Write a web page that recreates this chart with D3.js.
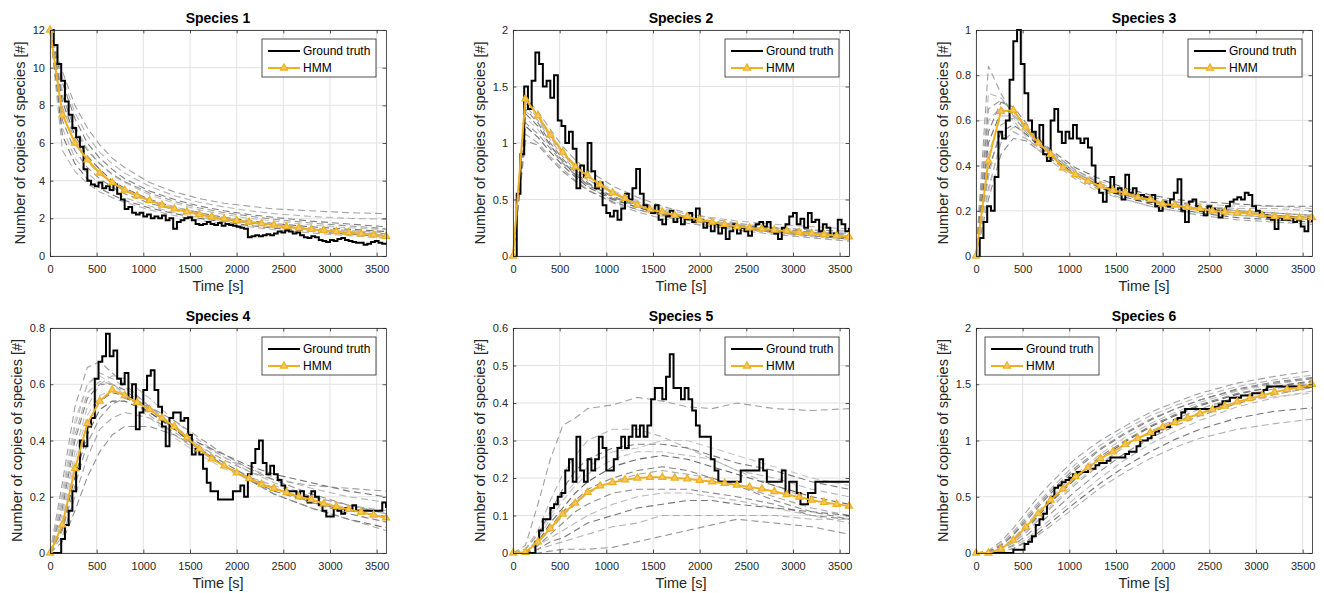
<!DOCTYPE html>
<html>
<head>
<meta charset="utf-8">
<script src="https://cdn.jsdelivr.net/npm/d3@7"></script>
<style>
body { margin: 0; background: #fff; }
svg { display: block; font-family: "Liberation Sans", Arial, Helvetica, sans-serif; }
</style>
</head>
<body>
<svg id="chart"></svg>
<script>
var width = 1324;
var height = 593;

// time grids [s]
var hmmTimes = [0,133,267,400,533,667,800,933,1067,1200,1333,1467,1600,1733,1867,2000,2133,2267,2400,2533,2667,2800,2933,3067,3200,3333,3467,3600];
var ensTimes = [0,133,267,400,533,667,800,1067,1333,1600,1867,2133,2400,2800,3200,3600];
var gtTimes = [0,40,80,120,160,200,240,280,320,360,400,440,480,520,560,600,640,680,720,760,800,840,880,920,960,1000,1040,1080,1120,1160,1200,1240,1280,1320,1360,1400,1440,1480,1520,1560,1600,1640,1680,1720,1760,1800,1840,1880,1920,1960,2000,2040,2080,2120,2160,2200,2240,2280,2320,2360,2400,2440,2480,2520,2560,2600,2640,2680,2720,2760,2800,2840,2880,2920,2960,3000,3040,3080,3120,3160,3200,3240,3280,3320,3360,3400,3440,3480,3520,3560,3600];

var titles = ["Species 1", "Species 2", "Species 3", "Species 4", "Species 5", "Species 6"];
var xTicks = [0,500,1000,1500,2000,2500,3000,3500];
var yMax = [12, 2, 1, 0.8, 0.6, 2];
var yTicks = [
  [0,2,4,6,8,10,12],
  [0,0.5,1,1.5,2],
  [0,0.2,0.4,0.6,0.8,1],
  [0,0.2,0.4,0.6,0.8],
  [0,0.1,0.2,0.3,0.4,0.5,0.6],
  [0,0.5,1,1.5,2]
];

// ground truth (step)
var truth1 = [12,11.2,10.2,9.3,8.2,7.5,6.8,6.3,5.8,4.6,4.0,3.8,3.7,3.9,3.6,3.7,3.5,3.8,3.3,3.0,2.5,2.6,2.3,2.2,2.3,2.1,2.2,2.0,2.1,2.0,2.15,1.9,2.0,1.45,1.8,1.9,2.0,2.05,1.9,1.7,1.65,1.7,1.8,1.7,1.65,1.75,1.6,1.7,1.65,1.6,1.55,1.5,1.45,1.0,1.05,1.1,1.05,1.1,1.15,1.1,1.2,1.3,1.25,1.35,1.3,1.2,1.25,1.1,1.0,0.95,1.05,1.0,0.85,0.8,0.75,0.85,0.8,0.9,0.95,0.85,0.8,0.75,0.7,0.7,0.6,0.65,0.75,0.8,0.7,0.65,0.7];
var truth2 = [0,0.55,0.9,1.5,1.3,1.55,1.8,1.7,1.5,1.55,1.4,1.6,1.2,1.15,1.0,1.1,0.95,0.6,0.8,0.7,1.0,0.75,0.6,0.65,0.45,0.38,0.35,0.4,0.32,0.42,0.55,0.5,0.6,0.77,0.55,0.45,0.4,0.38,0.45,0.32,0.28,0.35,0.4,0.3,0.35,0.28,0.33,0.38,0.3,0.42,0.32,0.25,0.3,0.22,0.28,0.2,0.25,0.15,0.22,0.28,0.2,0.25,0.22,0.18,0.25,0.28,0.3,0.26,0.3,0.22,0.2,0.15,0.25,0.28,0.35,0.38,0.28,0.33,0.25,0.38,0.3,0.32,0.22,0.28,0.25,0.18,0.2,0.32,0.28,0.22,0.25];
var truth3 = [0,0.08,0.15,0.22,0.2,0.35,0.55,0.52,0.6,0.78,0.95,1.0,0.85,0.72,0.6,0.55,0.5,0.58,0.45,0.42,0.6,0.65,0.55,0.5,0.55,0.52,0.58,0.52,0.5,0.52,0.48,0.4,0.32,0.28,0.24,0.3,0.35,0.28,0.3,0.25,0.36,0.28,0.3,0.25,0.27,0.26,0.24,0.27,0.22,0.2,0.24,0.22,0.25,0.28,0.34,0.2,0.15,0.24,0.25,0.22,0.2,0.18,0.22,0.21,0.2,0.17,0.2,0.22,0.24,0.25,0.26,0.25,0.28,0.27,0.22,0.2,0.19,0.18,0.17,0.16,0.12,0.17,0.16,0.16,0.17,0.15,0.16,0.13,0.11,0.17,0.15];
var truth4 = [0,0,0,0.05,0.1,0.15,0.22,0.3,0.4,0.38,0.45,0.48,0.62,0.68,0.7,0.78,0.7,0.72,0.62,0.6,0.64,0.55,0.6,0.44,0.5,0.58,0.63,0.65,0.58,0.52,0.45,0.38,0.48,0.5,0.5,0.47,0.48,0.42,0.35,0.37,0.35,0.3,0.25,0.22,0.22,0.19,0.19,0.19,0.19,0.22,0.22,0.24,0.2,0.28,0.32,0.37,0.4,0.32,0.28,0.31,0.28,0.26,0.24,0.21,0.22,0.22,0.2,0.22,0.2,0.18,0.22,0.2,0.17,0.15,0.13,0.13,0.16,0.15,0.14,0.16,0.15,0.17,0.15,0.15,0.15,0.15,0.15,0.15,0.15,0.18,0.16];
var truth5 = [0,0,0,0,0,0,0.03,0.06,0.09,0.09,0.12,0.13,0.15,0.16,0.22,0.25,0.19,0.31,0.22,0.19,0.25,0.22,0.25,0.31,0.28,0.22,0.22,0.25,0.28,0.31,0.28,0.31,0.34,0.31,0.34,0.31,0.34,0.41,0.44,0.44,0.41,0.47,0.53,0.44,0.44,0.41,0.44,0.41,0.38,0.34,0.31,0.31,0.31,0.25,0.22,0.19,0.19,0.19,0.19,0.19,0.19,0.22,0.22,0.22,0.22,0.22,0.25,0.22,0.19,0.19,0.19,0.19,0.22,0.16,0.19,0.19,0.16,0.13,0.13,0.16,0.16,0.19,0.19,0.19,0.19,0.19,0.19,0.19,0.19,0.19,0.19];
var truth6 = [0,0,0,0,0,0,0,0,0,0,0.03,0.03,0.03,0.08,0.1,0.15,0.25,0.3,0.35,0.45,0.5,0.58,0.6,0.63,0.65,0.67,0.7,0.72,0.72,0.72,0.75,0.75,0.78,0.8,0.8,0.82,0.85,0.85,0.85,0.85,0.88,0.9,0.9,0.95,1.0,1.0,1.02,1.05,1.08,1.1,1.12,1.12,1.15,1.18,1.2,1.25,1.28,1.28,1.28,1.28,1.28,1.28,1.28,1.28,1.3,1.32,1.35,1.35,1.38,1.38,1.38,1.4,1.4,1.4,1.42,1.42,1.42,1.45,1.48,1.48,1.48,1.48,1.48,1.48,1.48,1.48,1.48,1.48,1.48,1.48,1.48];

// HMM estimate
var hmm1 = [12,7.5,6.0,5.1,4.4,3.9,3.5,3.2,2.95,2.7,2.5,2.35,2.2,2.08,1.97,1.88,1.8,1.72,1.64,1.56,1.49,1.42,1.36,1.3,1.24,1.18,1.12,1.05];
var hmm2 = [0,1.39,1.24,1.07,0.92,0.79,0.71,0.63,0.56,0.51,0.45,0.41,0.39,0.36,0.35,0.32,0.30,0.28,0.26,0.25,0.24,0.23,0.22,0.21,0.20,0.19,0.18,0.17];
var hmm3 = [0,0.42,0.64,0.645,0.57,0.50,0.45,0.39,0.36,0.33,0.31,0.29,0.28,0.26,0.25,0.23,0.225,0.215,0.21,0.2,0.195,0.19,0.19,0.18,0.175,0.172,0.17,0.17];
var hmm4 = [0,0.10,0.30,0.46,0.54,0.58,0.56,0.535,0.51,0.48,0.45,0.41,0.37,0.335,0.31,0.285,0.265,0.245,0.23,0.215,0.2,0.19,0.175,0.165,0.155,0.145,0.135,0.125];
var hmm5 = [0,0.002,0.03,0.065,0.104,0.133,0.162,0.179,0.188,0.195,0.2,0.202,0.202,0.2,0.198,0.194,0.19,0.186,0.181,0.176,0.171,0.164,0.156,0.149,0.141,0.135,0.13,0.125];
var hmm6 = [0,0,0.035,0.115,0.23,0.35,0.47,0.57,0.68,0.76,0.84,0.9,0.965,1.02,1.07,1.12,1.16,1.2,1.24,1.275,1.305,1.343,1.373,1.4,1.43,1.453,1.47,1.5];

// ensemble runs (dashed)
var ens1 = [
  [12,9.8,8.0,6.8,5.9,5.2,4.7,3.9,3.4,3.05,2.8,2.65,2.5,2.4,2.3,2.25],
  [12,9.5,7.6,6.4,5.5,4.9,4.4,3.7,3.2,2.85,2.6,2.4,2.25,2.1,2.0,1.95],
  [12,9.2,7.3,6.0,5.2,4.6,4.1,3.45,3.0,2.65,2.4,2.2,2.05,1.85,1.7,1.55],
  [12,8.8,6.9,5.7,4.9,4.3,3.9,3.25,2.8,2.45,2.2,2.0,1.85,1.65,1.5,1.4],
  [12,8.2,6.4,5.3,4.6,4.0,3.6,3.0,2.6,2.3,2.05,1.88,1.72,1.55,1.42,1.3],
  [12,7.9,6.2,5.1,4.4,3.85,3.45,2.9,2.5,2.2,1.98,1.8,1.66,1.48,1.35,1.25],
  [12,7.2,5.6,4.7,4.1,3.65,3.3,2.8,2.45,2.15,1.92,1.75,1.6,1.42,1.28,1.18],
  [12,6.8,5.2,4.4,3.85,3.45,3.1,2.65,2.3,2.05,1.85,1.68,1.54,1.38,1.25,1.12],
  [12,6.4,4.9,4.1,3.6,3.25,2.95,2.55,2.25,2.0,1.8,1.62,1.48,1.3,1.15,1.05],
  [12,5.6,4.5,3.85,3.4,3.1,2.85,2.45,2.15,1.9,1.7,1.55,1.4,1.22,1.08,0.95],
  [12,8.5,6.7,5.6,4.9,4.35,3.95,3.35,2.9,2.55,2.3,2.12,1.95,1.75,1.6,1.45],
  [12,7.6,6.0,5.0,4.35,3.9,3.55,3.0,2.6,2.3,2.05,1.85,1.7,1.5,1.35,1.22]
];
var ens2 = [
  [0,1.40,1.28,1.12,0.97,0.85,0.76,0.62,0.52,0.44,0.38,0.33,0.29,0.25,0.22,0.2],
  [0,1.35,1.22,1.05,0.90,0.78,0.68,0.55,0.46,0.39,0.34,0.30,0.27,0.23,0.2,0.18],
  [0,1.30,1.18,1.0,0.86,0.74,0.65,0.52,0.44,0.38,0.33,0.29,0.26,0.22,0.19,0.16],
  [0,1.22,1.12,0.97,0.83,0.71,0.62,0.49,0.41,0.35,0.30,0.27,0.24,0.2,0.17,0.14],
  [0,1.15,1.05,0.92,0.80,0.70,0.61,0.50,0.43,0.37,0.33,0.30,0.27,0.24,0.21,0.19],
  [0,1.08,1.0,0.88,0.77,0.67,0.59,0.47,0.39,0.33,0.29,0.26,0.23,0.19,0.16,0.13],
  [0,1.02,0.98,0.86,0.75,0.66,0.58,0.48,0.41,0.36,0.32,0.29,0.27,0.25,0.23,0.22],
  [0,1.38,1.25,1.08,0.93,0.80,0.70,0.57,0.48,0.42,0.37,0.34,0.31,0.28,0.26,0.24],
  [0,1.26,1.15,0.98,0.84,0.72,0.63,0.51,0.43,0.37,0.32,0.28,0.25,0.21,0.18,0.15],
  [0,1.33,1.2,1.03,0.88,0.76,0.67,0.56,0.47,0.40,0.35,0.31,0.28,0.24,0.21,0.19],
  [0,1.18,1.08,0.95,0.82,0.72,0.64,0.53,0.45,0.38,0.33,0.29,0.25,0.21,0.18,0.16],
  [0,1.28,1.2,1.06,0.92,0.81,0.72,0.58,0.49,0.41,0.35,0.31,0.27,0.23,0.19,0.17]
];
var ens3 = [
  [0,0.84,0.72,0.62,0.55,0.49,0.44,0.36,0.30,0.27,0.24,0.22,0.21,0.20,0.19,0.18],
  [0,0.72,0.70,0.63,0.56,0.50,0.45,0.37,0.31,0.28,0.25,0.23,0.22,0.21,0.21,0.20],
  [0,0.55,0.68,0.66,0.59,0.52,0.46,0.38,0.32,0.28,0.26,0.24,0.22,0.2,0.19,0.18],
  [0,0.45,0.62,0.62,0.57,0.51,0.46,0.38,0.33,0.29,0.26,0.24,0.23,0.22,0.22,0.21],
  [0,0.38,0.55,0.58,0.54,0.49,0.44,0.36,0.30,0.26,0.23,0.21,0.19,0.17,0.16,0.15],
  [0,0.30,0.50,0.55,0.52,0.48,0.43,0.35,0.29,0.25,0.22,0.20,0.18,0.16,0.15,0.14],
  [0,0.25,0.45,0.52,0.51,0.47,0.43,0.36,0.31,0.27,0.24,0.22,0.21,0.19,0.18,0.17],
  [0,0.60,0.66,0.60,0.53,0.47,0.42,0.34,0.28,0.25,0.22,0.20,0.19,0.18,0.17,0.16],
  [0,0.50,0.64,0.64,0.58,0.52,0.47,0.39,0.34,0.30,0.27,0.25,0.24,0.23,0.22,0.22],
  [0,0.35,0.58,0.61,0.56,0.50,0.45,0.37,0.31,0.27,0.24,0.22,0.20,0.18,0.17,0.16],
  [0,0.65,0.69,0.64,0.57,0.51,0.45,0.37,0.31,0.27,0.245,0.225,0.21,0.19,0.18,0.17],
  [0,0.28,0.52,0.57,0.55,0.50,0.45,0.37,0.32,0.28,0.25,0.23,0.21,0.2,0.19,0.18]
];
var ens4 = [
  [0,0.25,0.52,0.66,0.68,0.64,0.6,0.52,0.45,0.38,0.33,0.29,0.26,0.24,0.23,0.22],
  [0,0.2,0.45,0.6,0.64,0.62,0.59,0.52,0.45,0.39,0.34,0.3,0.27,0.23,0.2,0.18],
  [0,0.16,0.4,0.55,0.6,0.6,0.58,0.51,0.44,0.37,0.31,0.26,0.22,0.18,0.15,0.13],
  [0,0.12,0.33,0.49,0.56,0.58,0.57,0.51,0.45,0.38,0.32,0.27,0.23,0.18,0.14,0.11],
  [0,0.09,0.27,0.42,0.51,0.54,0.54,0.5,0.44,0.37,0.31,0.26,0.21,0.16,0.12,0.09],
  [0,0.06,0.2,0.34,0.44,0.48,0.5,0.48,0.43,0.37,0.31,0.26,0.21,0.16,0.12,0.08],
  [0,0.04,0.15,0.27,0.36,0.42,0.45,0.45,0.42,0.37,0.32,0.27,0.23,0.18,0.14,0.11],
  [0,0.14,0.36,0.52,0.6,0.63,0.62,0.55,0.47,0.4,0.34,0.29,0.25,0.2,0.17,0.14],
  [0,0.1,0.3,0.46,0.54,0.57,0.56,0.5,0.44,0.39,0.35,0.31,0.28,0.25,0.22,0.2],
  [0,0.18,0.42,0.57,0.61,0.6,0.57,0.49,0.42,0.36,0.31,0.27,0.24,0.2,0.17,0.15],
  [0,0.08,0.24,0.39,0.48,0.53,0.55,0.52,0.47,0.41,0.35,0.3,0.26,0.21,0.17,0.14],
  [0,0.22,0.47,0.6,0.63,0.6,0.56,0.48,0.41,0.35,0.3,0.26,0.23,0.19,0.16,0.14]
];
var ens5 = [
  [0,0.02,0.13,0.25,0.34,0.36,0.385,0.395,0.415,0.405,0.39,0.385,0.4,0.385,0.38,0.385],
  [0,0.01,0.06,0.14,0.21,0.26,0.3,0.33,0.33,0.31,0.28,0.25,0.22,0.2,0.17,0.15],
  [0,0.01,0.05,0.11,0.17,0.22,0.25,0.28,0.29,0.29,0.28,0.26,0.24,0.22,0.19,0.17],
  [0,0,0.04,0.09,0.14,0.18,0.21,0.25,0.27,0.27,0.26,0.25,0.22,0.18,0.14,0.12],
  [0,0,0.03,0.08,0.12,0.16,0.19,0.23,0.25,0.26,0.25,0.23,0.21,0.18,0.15,0.13],
  [0,0,0.03,0.06,0.1,0.13,0.16,0.19,0.21,0.22,0.21,0.2,0.18,0.15,0.12,0.1],
  [0,0,0.02,0.05,0.08,0.11,0.13,0.16,0.17,0.17,0.17,0.16,0.15,0.13,0.1,0.09],
  [0,0,0.02,0.04,0.06,0.08,0.1,0.13,0.15,0.16,0.16,0.15,0.14,0.12,0.1,0.08],
  [0,0,0.01,0.03,0.04,0.06,0.08,0.1,0.12,0.13,0.14,0.14,0.13,0.12,0.11,0.1],
  [0,0,0.01,0.02,0.03,0.04,0.05,0.07,0.08,0.1,0.1,0.1,0.1,0.1,0.09,0.09],
  [0,0,0,0.005,0.01,0.01,0.01,0.015,0.03,0.045,0.06,0.075,0.09,0.08,0.07,0.05],
  [0,0.01,0.05,0.1,0.15,0.19,0.23,0.27,0.28,0.3,0.3,0.28,0.26,0.23,0.2,0.18],
  [0,0,0.03,0.07,0.11,0.14,0.17,0.2,0.22,0.23,0.22,0.2,0.18,0.14,0.11,0.09]
];
var ens6 = [
  [0,0.02,0.1,0.22,0.36,0.5,0.62,0.84,1.0,1.13,1.25,1.34,1.42,1.51,1.57,1.62],
  [0,0.01,0.08,0.19,0.32,0.45,0.57,0.79,0.96,1.1,1.22,1.31,1.39,1.48,1.54,1.58],
  [0,0.01,0.06,0.16,0.28,0.41,0.53,0.74,0.92,1.06,1.18,1.28,1.36,1.46,1.52,1.56],
  [0,0,0.05,0.13,0.25,0.37,0.49,0.7,0.88,1.03,1.15,1.25,1.34,1.44,1.5,1.55],
  [0,0,0.04,0.11,0.21,0.33,0.45,0.66,0.84,0.99,1.12,1.22,1.31,1.41,1.48,1.53],
  [0,0,0.03,0.09,0.18,0.29,0.4,0.61,0.79,0.95,1.08,1.19,1.28,1.39,1.46,1.51],
  [0,0,0.02,0.07,0.15,0.25,0.35,0.55,0.73,0.89,1.02,1.13,1.22,1.33,1.41,1.47],
  [0,0,0.02,0.06,0.12,0.21,0.3,0.49,0.67,0.83,0.97,1.08,1.18,1.3,1.38,1.44],
  [0,0,0.01,0.04,0.1,0.18,0.27,0.45,0.62,0.77,0.9,1.01,1.1,1.2,1.26,1.29],
  [0,0,0.01,0.04,0.09,0.16,0.24,0.41,0.58,0.72,0.84,0.94,1.02,1.1,1.15,1.19],
  [0,0.01,0.07,0.17,0.3,0.43,0.55,0.76,0.93,1.07,1.19,1.28,1.36,1.45,1.51,1.55],
  [0,0,0.03,0.1,0.2,0.31,0.42,0.63,0.8,0.95,1.07,1.17,1.25,1.34,1.39,1.42],
  [0,0,0.04,0.12,0.23,0.35,0.47,0.68,0.86,1.0,1.13,1.23,1.32,1.42,1.48,1.52]
];

var ensShade = ["#8f8f8f","#a9a9a9","#6a6a6a","#b6b6b6","#4f4f4f","#999999","#7a7a7a","#adadad","#5e5e5e","#a2a2a2","#828282","#bcbcbc","#737373"];
var hmmColor = "#EDB120";

var panels = [
  { truth: truth1, hmm: hmm1, ens: ens1 },
  { truth: truth2, hmm: hmm2, ens: ens2 },
  { truth: truth3, hmm: hmm3, ens: ens3 },
  { truth: truth4, hmm: hmm4, ens: ens4 },
  { truth: truth5, hmm: hmm5, ens: ens5 },
  { truth: truth6, hmm: hmm6, ens: ens6 }
];

var colX = [50, 513, 976];
var rowY = [30, 328];
var rowH = [226, 225];
var axW = 336;

var svg = d3.select("#chart")
  .attr("width", width)
  .attr("height", height);

panels.forEach(function (p, i) {
  var x0 = colX[i % 3];
  var y0 = rowY[Math.floor(i / 3)];
  var h = rowH[Math.floor(i / 3)];

  var x = d3.scaleLinear().domain([0, 3600]).range([0, axW]);
  var y = d3.scaleLinear().domain([0, yMax[i]]).range([h, 0]);

  var g = svg.append("g").attr("transform", "translate(" + x0 + "," + y0 + ")");

  // grid
  g.append("g").selectAll("line").data(xTicks).join("line")
    .attr("x1", function (d) { return x(d); })
    .attr("x2", function (d) { return x(d); })
    .attr("y1", 0).attr("y2", h)
    .attr("stroke", "#e2e2e2").attr("stroke-width", 1);
  g.append("g").selectAll("line").data(yTicks[i]).join("line")
    .attr("x1", 0).attr("x2", axW)
    .attr("y1", function (d) { return y(d); })
    .attr("y2", function (d) { return y(d); })
    .attr("stroke", "#e2e2e2").attr("stroke-width", 1);

  var line = d3.line()
    .x(function (d) { return x(d[0]); })
    .y(function (d) { return y(d[1]); });

  // ensemble runs
  p.ens.forEach(function (vals, k) {
    g.append("path")
      .datum(d3.zip(ensTimes, vals))
      .attr("d", line)
      .attr("fill", "none")
      .attr("stroke", ensShade[k % ensShade.length])
      .attr("stroke-opacity", 0.85)
      .attr("stroke-width", 1.1)
      .attr("stroke-dasharray", "7,4");
  });

  // ground truth
  g.append("path")
    .datum(d3.zip(gtTimes, p.truth))
    .attr("d", line.curve(d3.curveStepAfter))
    .attr("fill", "none")
    .attr("stroke", "#000")
    .attr("stroke-width", 2);
  line.curve(d3.curveLinear);

  // HMM
  var hmmData = d3.zip(hmmTimes, p.hmm);
  g.append("path")
    .datum(hmmData)
    .attr("d", line)
    .attr("fill", "none")
    .attr("stroke", hmmColor)
    .attr("stroke-width", 2);
  g.append("g").selectAll("path").data(hmmData).join("path")
    .attr("d", d3.symbol(d3.symbolTriangle, 22))
    .attr("transform", function (d) { return "translate(" + x(d[0]) + "," + y(d[1]) + ")"; })
    .attr("fill", "#F3C860")
    .attr("stroke", hmmColor)
    .attr("stroke-width", 1.2);

  // axes
  var axes = g.append("g").attr("color", "#262626");
  axes.append("g").attr("transform", "translate(0," + h + ")")
    .call(d3.axisBottom(x).tickValues(xTicks).tickSize(-3.4).tickSizeOuter(0).tickPadding(9).tickFormat(d3.format("d")));
  axes.append("g")
    .call(d3.axisTop(x).tickValues(xTicks).tickSize(-3.4).tickSizeOuter(0).tickFormat(""));
  var yAx = axes.append("g")
    .call(d3.axisLeft(y).tickValues(yTicks[i]).tickSize(-3.4).tickSizeOuter(0).tickPadding(5).tickFormat(d3.format("~g")));
  axes.append("g").attr("transform", "translate(" + axW + ",0)")
    .call(d3.axisRight(y).tickValues(yTicks[i]).tickSize(-3.4).tickSizeOuter(0).tickFormat(""));
  axes.selectAll("g").attr("font-family", null).attr("font-size", 11);
  axes.selectAll(".domain, .tick line").attr("stroke-width", 0.8);

  var maxW = 0;
  yAx.selectAll("text").each(function () { maxW = Math.max(maxW, this.getComputedTextLength()); });

  // labels
  g.append("text")
    .attr("x", axW / 2).attr("y", -7)
    .attr("text-anchor", "middle")
    .attr("font-size", 14).attr("font-weight", "bold")
    .attr("fill", "#000")
    .text(titles[i]);
  g.append("text")
    .attr("x", axW / 2).attr("y", h + 35)
    .attr("text-anchor", "middle")
    .attr("font-size", 14.5)
    .attr("fill", "#262626")
    .text("Time [s]");
  var lx = -(5 + maxW + 13);
  g.append("text")
    .attr("transform", "translate(" + lx + "," + (h / 2) + ") rotate(-90)")
    .attr("text-anchor", "middle")
    .attr("dominant-baseline", "central")
    .attr("font-size", 14.5)
    .attr("fill", "#262626")
    .text("Number of copies of species [#]");

  // legend
  var legX = i === 5 ? 9 : axW - 124;
  var leg = g.append("g").attr("transform", "translate(" + legX + ",9)");
  leg.append("rect")
    .attr("width", 114).attr("height", 38)
    .attr("fill", "#fff").attr("stroke", "#262626").attr("stroke-width", 0.8);
  leg.append("line").attr("x1", 6).attr("x2", 38).attr("y1", 12).attr("y2", 12)
    .attr("stroke", "#000").attr("stroke-width", 2);
  leg.append("line").attr("x1", 6).attr("x2", 38).attr("y1", 29).attr("y2", 29)
    .attr("stroke", hmmColor).attr("stroke-width", 2);
  leg.append("path")
    .attr("d", d3.symbol(d3.symbolTriangle, 22))
    .attr("transform", "translate(22,29)")
    .attr("fill", "#F3C860").attr("stroke", hmmColor).attr("stroke-width", 1.2);
  leg.selectAll("text.lbl").data(["Ground truth", "HMM"]).join("text")
    .attr("class", "lbl")
    .attr("x", 41)
    .attr("y", function (d, k) { return k === 0 ? 12 : 29; })
    .attr("dominant-baseline", "central")
    .attr("font-size", 12)
    .attr("fill", "#000")
    .text(function (d) { return d; });
});
</script>
</body>
</html>
